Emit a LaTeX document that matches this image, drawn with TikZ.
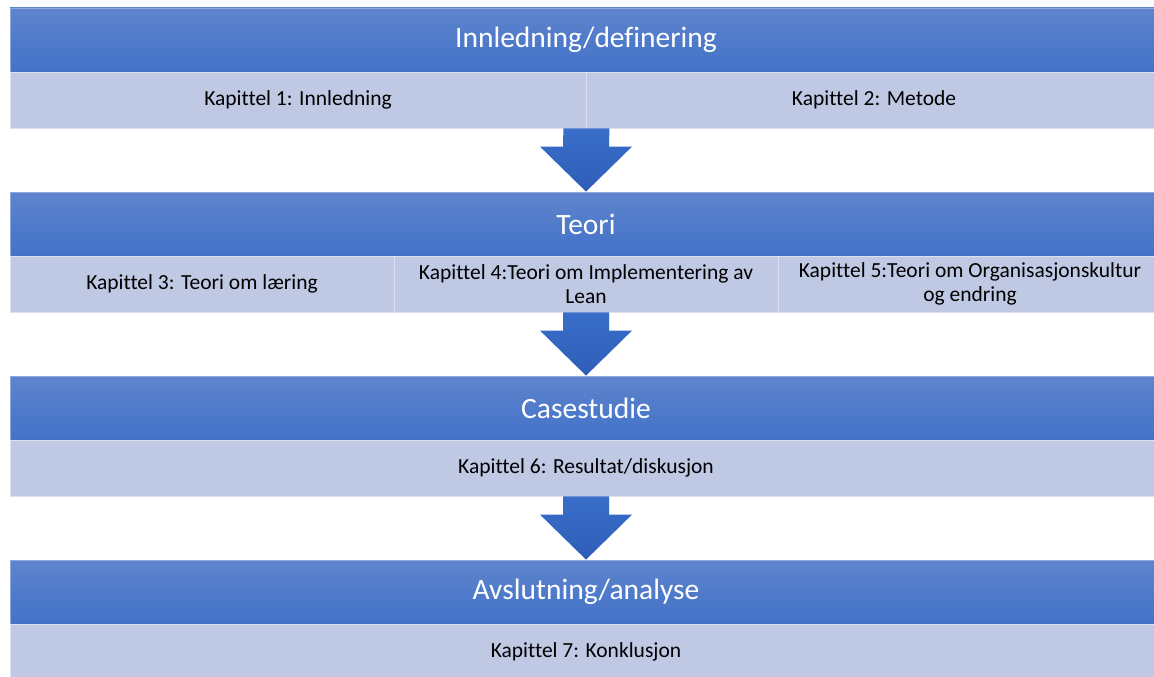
\documentclass[tikz,border=0pt]{standalone}
\usepackage{fontspec}
\setmainfont[Ligatures=NoCommon]{Carlito}
\usetikzlibrary{calc}
\definecolor{headtop}{RGB}{94,132,204}
\definecolor{headbot}{RGB}{66,114,200}
\definecolor{cellfill}{RGB}{192,201,228}
\definecolor{arrowtop}{RGB}{58,110,202}
\definecolor{arrowbot}{RGB}{46,94,183}

\tikzset{
  header/.style={rectangle,minimum width=1152pt,minimum height=64pt,inner sep=0pt,
    top color=headtop,bottom color=headbot,draw=headtop!70!white,line width=0.8pt,
    text=white,font=\fontsize{29.5}{34}\selectfont},
  cell/.style={rectangle,minimum height=56pt,inner sep=0pt,fill=cellfill,
    draw=cellfill!55!white,line width=0.8pt,align=center,
    font=\fontsize{21.5}{24}\selectfont},
  bigarrow/.style={top color=arrowtop,bottom color=arrowbot,draw=none}
}

% block arrow from the bottom of one row to the top of the next
\newcommand{\blockarrow}[2]{%
  \shade[bigarrow] ($(#1)+(-23,0)$) -- ($(#1)+(23,0)$) -- ($(#2)+(23,-45)$)
    -- ($(#2)+(46,-45)$) -- (#2) -- ($(#2)+(-46,-45)$) -- ($(#2)+(-23,-45)$) -- cycle;}

\begin{document}
\begin{tikzpicture}[x=1pt,y=-1pt]
    \useasboundingbox (0,0) rectangle (1154,677);
    \fill[white] (0,0) rectangle (1154,677);
    \clip (0,0) rectangle (1154,677);
    % introduction
    \node[header] (intro) at (586,40) {Innledning/definering};
    \node[cell,minimum width=576pt] (kap1) at (298,100) {Kapittel 1: Innledning};
    \node[cell,minimum width=576pt] (kap2) at (874,100) {Kapittel 2: Metode};
    % theory
    \node[header] (teori) at (586,224) {Teori};
    \node[cell,minimum width=384pt] (kap3) at (202,284) {Kapittel 3: Teori om læring};
    \node[cell,minimum width=384pt] (kap4) at (586,284) {Kapittel 4:Teori om Implementering av\\Lean};
    \node[cell,minimum width=384pt] (kap5) at (970,284) {Kapittel 5:Teori om Organisasjonskultur\\og endring};
    % case study
    \node[header] (case) at (586,408) {Casestudie};
    \node[cell,minimum width=1152pt] (kap6) at (586,468) {Kapittel 6: Resultat/diskusjon};
    % conclusion
    \node[header] (slutt) at (586,592) {Avslutning/analyse};
    \node[cell,minimum width=1152pt] (kap7) at (586,652) {Kapittel 7: Konklusjon};
    % arrows
    \blockarrow{kap1.south east}{teori.north}
    \blockarrow{kap4.south}{case.north}
    \blockarrow{kap6.south}{slutt.north}
\end{tikzpicture}
\end{document}
